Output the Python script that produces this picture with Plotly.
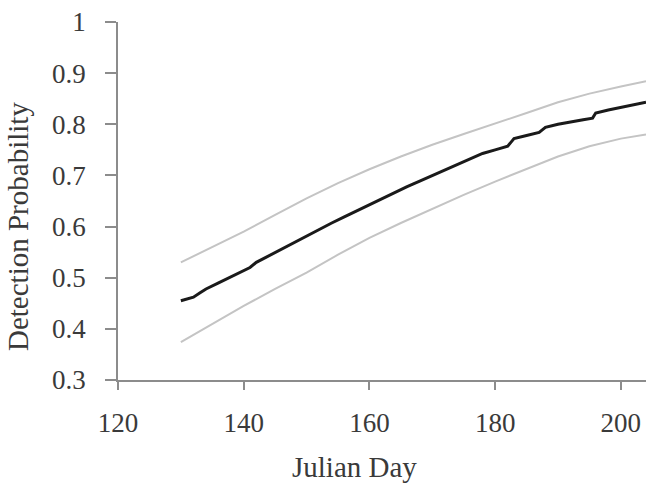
import plotly.graph_objects as go

# Julian day and detection probability (mean estimate)
days_mean = [130, 132, 133, 134, 136, 138, 140, 141, 142, 144, 146, 148, 150, 152, 154, 156, 158,
             160, 162, 164, 166, 168, 170, 172, 174, 176, 178, 180, 182, 182.6, 183, 185, 187,
             187.6, 188, 190, 192, 194, 195.5, 196, 198, 200, 202, 204]
prob_mean = [0.455, 0.462, 0.470, 0.478, 0.490, 0.502, 0.514, 0.520, 0.530, 0.543, 0.556, 0.569,
             0.582, 0.595, 0.607, 0.619, 0.631, 0.643, 0.655, 0.666, 0.678, 0.689, 0.700, 0.711,
             0.722, 0.733, 0.743, 0.750, 0.757, 0.766, 0.772, 0.778, 0.784, 0.790, 0.794, 0.800,
             0.805, 0.809, 0.812, 0.822, 0.828, 0.833, 0.838, 0.843]

# Confidence bounds
days_ci = [130, 135, 140, 145, 150, 155, 160, 165, 170, 175, 180, 185, 190, 195, 200, 204]
prob_upper = [0.530, 0.560, 0.590, 0.623, 0.655, 0.685, 0.712, 0.737, 0.760, 0.781, 0.801,
              0.822, 0.843, 0.860, 0.874, 0.884]
prob_lower = [0.374, 0.410, 0.445, 0.478, 0.510, 0.545, 0.578, 0.607, 0.635, 0.662, 0.688,
              0.712, 0.737, 0.757, 0.772, 0.780]

x_ticks = [120, 140, 160, 180, 200]
y_ticks = [0.3, 0.4, 0.5, 0.6, 0.7, 0.8, 0.9, 1.0]
y_tick_text = ["0.3", "0.4", "0.5", "0.6", "0.7", "0.8", "0.9", "1"]

FONT = "Liberation Serif, Times New Roman, serif"
TXT = "#3a3a3a"

W, H = 646, 485
ML, MT, MB = 118, 22, 105
PW, PH = W - ML, H - MT - MB

fig = go.Figure()
fig.add_trace(go.Scatter(x=days_ci, y=prob_upper, mode="lines",
                         line=dict(color="#c4c4c4", width=2), hoverinfo="skip"))
fig.add_trace(go.Scatter(x=days_ci, y=prob_lower, mode="lines",
                         line=dict(color="#c4c4c4", width=2), hoverinfo="skip"))
fig.add_trace(go.Scatter(x=days_mean, y=prob_mean, mode="lines",
                         line=dict(color="#1a1a1a", width=3)))

fig.update_layout(
    width=W, height=H,
    margin=dict(l=ML, r=0, t=MT, b=MB),
    paper_bgcolor="white", plot_bgcolor="white",
    showlegend=False,
    font=dict(family=FONT, size=27, color=TXT),
    xaxis=dict(range=[120, 204], tickvals=x_ticks, showgrid=False, zeroline=False,
               showline=True, linecolor="#8c8c8c", linewidth=1.5,
               ticks="outside", ticklen=8, tickcolor="#8c8c8c", tickwidth=1.5,
               ticklabelstandoff=10, ticklabeloverflow="allow",
               tickfont=dict(family=FONT, size=27, color=TXT)),
    yaxis=dict(range=[0.3, 1.0], tickvals=y_ticks, ticktext=y_tick_text, showgrid=False,
               zeroline=False, showline=True, linecolor="#8c8c8c", linewidth=1.5,
               ticks="outside", ticklen=11, tickcolor="#8c8c8c", tickwidth=1.5,
               ticklabelstandoff=14, ticklabeloverflow="allow",
               tickfont=dict(family=FONT, size=27, color=TXT)),
    annotations=[
        dict(text="Detection Probability", xref="paper", yref="paper",
             x=(18 - ML) / PW, y=(380 - 227) / PH, textangle=-90,
             showarrow=False, xanchor="center", yanchor="middle",
             font=dict(family=FONT, size=29, color=TXT)),
        dict(text="Julian Day", xref="paper", yref="paper",
             x=(354 - ML) / PW, y=-(467 - 380) / PH,
             showarrow=False, xanchor="center", yanchor="middle",
             font=dict(family=FONT, size=29, color=TXT)),
    ],
)

fig.write_html("out.html", config={"displayModeBar": False},
               post_script="document.body.style.margin='0';")
